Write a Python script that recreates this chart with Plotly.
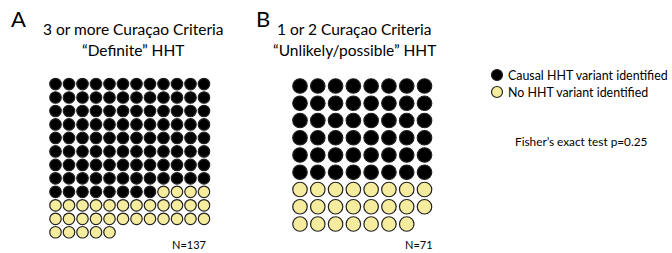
import plotly.graph_objects as go

# ---- data ----
panels = ["A", "B"]
title_line1 = ["3 or more Curaçao Criteria", "1 or 2 Curaçao Criteria"]
title_line2 = ["“Definite” HHT", "“Unlikely/possible” HHT"]
causal_counts = [104, 48]
no_variant_counts = [33, 23]
totals = [137, 71]
grid_cols = [12, 8]
series_names = ["Causal HHT variant identified", "No HHT variant identified"]
fisher_text = "Fisher’s exact test p=0.25"

W, H = 672, 253
BLACK = "#000000"
YELLOW = "#F6EC9E"
OUTLINE = "#222222"
FONT = "Lato"
colors = [BLACK, YELLOW]

fig = go.Figure()

# panel geometry (pixels)
geom = [
    dict(x0=48.75, x1=210.75, y0=77.3, y1=239.0, size=11.5, rows=12),
    dict(x0=291.1, x1=433.4, y0=77.4, y1=232.6, size=14.5, rows=9),
]

for i in range(2):
    ncol = grid_cols[i]
    counts = [causal_counts[i], no_variant_counts[i]]
    idx = 0
    ax = "" if i == 0 else str(i + 1)
    for s in range(2):
        xs, ys = [], []
        for k in range(counts[s]):
            xs.append(idx % ncol)
            ys.append(idx // ncol)
            idx += 1
        fig.add_trace(go.Scatter(
            x=xs, y=ys, mode="markers", name=series_names[s], showlegend=False,
            marker=dict(size=geom[i]["size"], color=colors[s],
                        line=dict(color=OUTLINE, width=1.2)),
            xaxis="x" + ax, yaxis="y" + ax, hoverinfo="skip"))
    g = geom[i]
    fig.update_layout(**{
        "xaxis" + ax: dict(domain=[g["x0"] / W, g["x1"] / W],
                           range=[-0.5, ncol - 0.5], visible=False, fixedrange=True),
        "yaxis" + ax: dict(domain=[1 - g["y1"] / H, 1 - g["y0"] / H],
                           range=[g["rows"] - 0.5, -0.5], visible=False, fixedrange=True),
    })

# manual legend on its own axis (x in pixels from marker, y in item index)
LX0, LY0, LY1, ITEM = 480, 58, 110, 17.0
mx, my0 = 497, 75
fig.add_trace(go.Scatter(
    x=[0] * len(series_names), y=list(range(len(series_names))), mode="markers",
    showlegend=False, hoverinfo="skip",
    marker=dict(size=11, color=colors, line=dict(color=OUTLINE, width=1.2)),
    xaxis="x3", yaxis="y3"))
fig.update_layout(
    xaxis3=dict(domain=[LX0 / W, 1], range=[LX0 - mx, W - mx], visible=False, fixedrange=True),
    yaxis3=dict(domain=[1 - LY1 / H, 1 - LY0 / H],
                range=[(LY1 - my0) / ITEM, (LY0 - my0) / ITEM], visible=False, fixedrange=True),
)

annotations = []
for j, nm in enumerate(series_names):
    annotations.append(dict(text=nm, x=9, y=j, xref="x3", yref="y3", showarrow=False,
                            font=dict(size=12.4, color="black", family=FONT),
                            xanchor="left", yanchor="middle"))
# panel letters
for i, (px, py) in enumerate([(18, 18), (263, 18)]):
    annotations.append(dict(text=panels[i], x=px / W, y=1 - py / H, xref="paper", yref="paper",
                            showarrow=False, font=dict(size=22, color="black", family=FONT),
                            xanchor="center", yanchor="middle"))
# titles
for i, cx in enumerate([133, 354]):
    annotations.append(dict(text=title_line1[i], x=cx / W, y=1 - 29 / H, xref="paper", yref="paper",
                            showarrow=False, font=dict(size=15.5, color="black", family=FONT),
                            xanchor="center", yanchor="middle"))
    annotations.append(dict(text=title_line2[i], x=cx / W, y=1 - 50 / H, xref="paper", yref="paper",
                            showarrow=False, font=dict(size=15.5, color="black", family=FONT),
                            xanchor="center", yanchor="middle"))
# N labels
for i, rx in enumerate([208, 435]):
    annotations.append(dict(text="N=" + str(totals[i]), x=rx / W, y=1 - 244 / H,
                            xref="paper", yref="paper", showarrow=False,
                            font=dict(size=11, color="black", family=FONT),
                            xanchor="right", yanchor="middle"))
annotations.append(dict(text=fisher_text, x=581 / W, y=1 - 141 / H, xref="paper", yref="paper",
                        showarrow=False, font=dict(size=11.8, color="black", family=FONT),
                        xanchor="center", yanchor="middle"))

fig.update_layout(
    width=W, height=H,
    margin=dict(l=0, r=0, t=0, b=0),
    paper_bgcolor="white", plot_bgcolor="white",
    annotations=annotations,
    showlegend=False,
)

fig.write_html("out.html", config={"displayModeBar": False},
               post_script="document.body.style.margin='0';")
